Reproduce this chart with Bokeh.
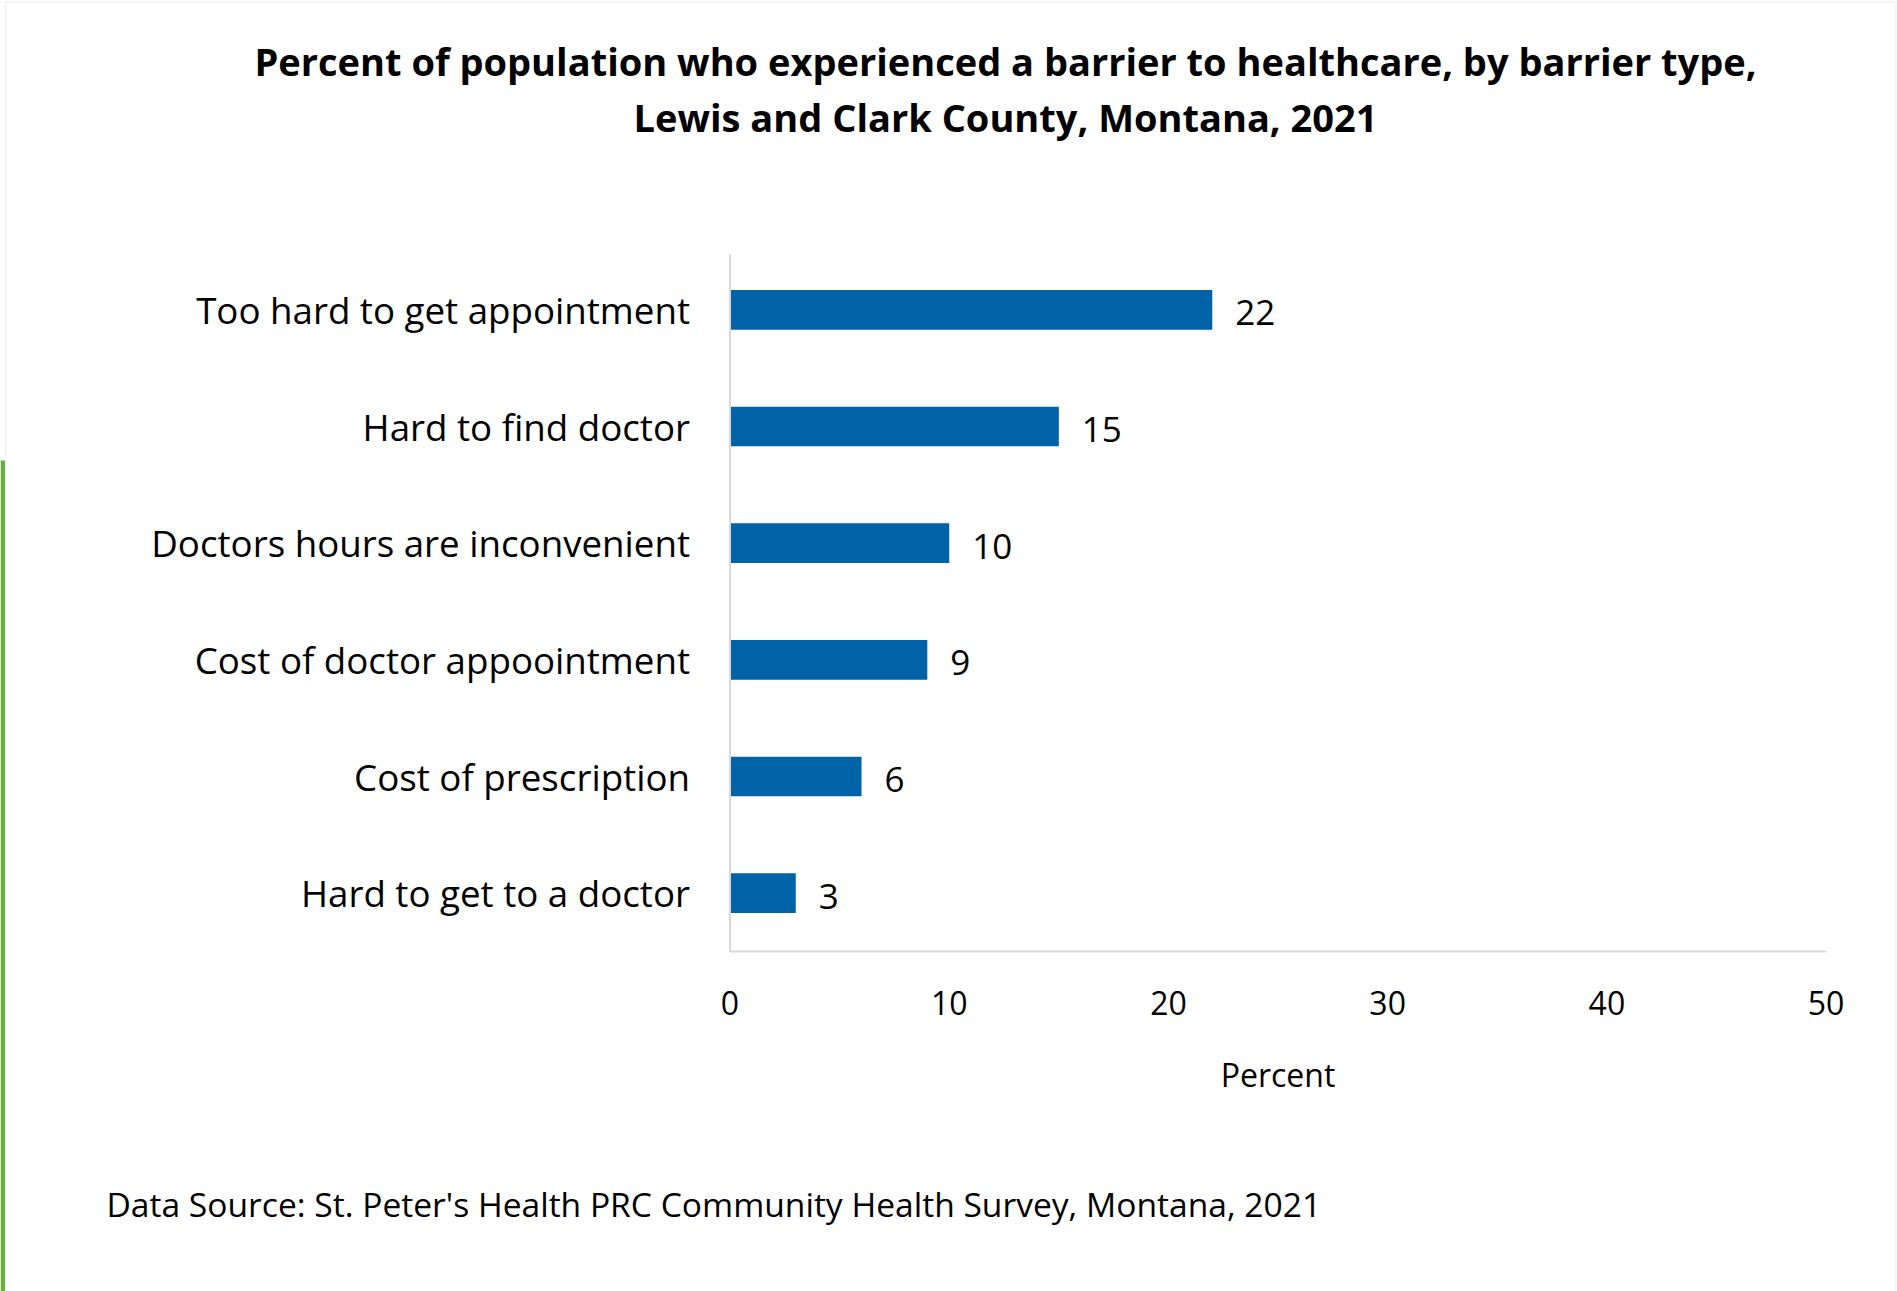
from bokeh.plotting import figure
from bokeh.models import Range1d, Label, BoxAnnotation, ColumnDataSource
from bokeh.core.properties import value
from bokeh.embed import file_html
from bokeh.resources import INLINE

# ---- data ----
categories = [
    "Too hard to get appointment",
    "Hard to find doctor",
    "Doctors hours are inconvenient",
    "Cost of doctor appoointment",
    "Cost of prescription",
    "Hard to get to a doctor",
]
values = [22, 15, 10, 9, 6, 3]
x_ticks = [0, 10, 20, 30, 40, 50]
title_line1 = "Percent of population who experienced a barrier to healthcare, by barrier type,"
title_line2 = "Lewis and Clark County, Montana, 2021"
x_title = "Percent"
source_note = "Data Source: St. Peter's Health PRC Community Health Survey, Montana, 2021"

# ---- layout geometry (pixels) ----
W, H = 1897, 1291
AX_LEFT_PX, AX_RIGHT_PX = 729.5, 1825.6     # x = 0 and x = 50
AX_TOP_PX, AX_BOTTOM_PX = 251.0, 951.0      # top / bottom of category band area
FONT = "Open Sans"
BAR = "#0063A7"
AXIS = "#d9d9d9"

n = len(categories)
xmax = x_ticks[-1]
px_per_x = (AX_RIGHT_PX - AX_LEFT_PX) / xmax
band_px = (AX_BOTTOM_PX - AX_TOP_PX) / n

x_range = Range1d(-AX_LEFT_PX / px_per_x, (W - AX_LEFT_PX) / px_per_x)
y_range = Range1d(-(H - AX_BOTTOM_PX) / band_px, n + AX_TOP_PX / band_px)

ypos = [n - 0.5 - i for i in range(n)]
src = ColumnDataSource(dict(cat=categories, val=values, y=ypos, lbl=[str(v) for v in values]))
tsrc = ColumnDataSource(dict(x=x_ticks, y=[0] * len(x_ticks), lbl=[str(t) for t in x_ticks]))

p = figure(
    width=W, height=H, x_range=x_range, y_range=y_range,
    output_backend="svg", toolbar_location=None,
    x_axis_location=None, y_axis_location=None, min_border=0,
)
p.outline_line_color = None
p.background_fill_color = "white"
p.border_fill_color = "white"
p.xgrid.visible = False
p.ygrid.visible = False

# bars
p.hbar(y="y", left=0, right="val", height=0.34, source=src, fill_color=BAR, line_color=None)

# value labels
p.text(x="val", y="y", text="lbl", source=src, x_offset=23, y_offset=3,
       text_baseline="middle", text_align="left",
       text_font=value(FONT), text_font_size="35px", text_color="black")

# axis lines
p.segment(x0=[0, 0], y0=[0, 0], x1=[0, xmax], y1=[n - 3 / band_px, 0],
          line_color=AXIS, line_width=2)

# category labels (y axis)
p.text(x=0, y="y", text="cat", source=src, x_offset=-40, y_offset=0,
       text_baseline="middle", text_align="right",
       text_font=value(FONT), text_font_size="36.7px", text_color="black")

# x tick labels
p.text(x="x", y="y", text="lbl", source=tsrc, x_offset=0, y_offset=51,
       text_baseline="middle", text_align="center",
       text_font=value(FONT), text_font_size="32px", text_color="black")

# screen-unit helpers (frame == whole canvas; y measured up from the bottom)
def sy(px_from_top):
    return H - px_from_top

p.add_layout(Label(x=(AX_LEFT_PX + AX_RIGHT_PX) / 2, y=sy(1074), x_units="screen", y_units="screen",
                   text=x_title, text_align="center", text_baseline="middle",
                   text_font=FONT, text_font_size="32px", text_color="black"))

p.add_layout(Label(x=1005, y=sy(60), x_units="screen", y_units="screen", text=title_line1,
                   text_align="center", text_baseline="middle", text_font=FONT,
                   text_font_size="38px", text_font_style="bold", text_color="black"))
p.add_layout(Label(x=1005, y=sy(116), x_units="screen", y_units="screen", text=title_line2,
                   text_align="center", text_baseline="middle", text_font=FONT,
                   text_font_size="38px", text_font_style="bold", text_color="black"))
p.add_layout(Label(x=106, y=sy(1203), x_units="screen", y_units="screen", text=source_note,
                   text_align="left", text_baseline="middle", text_font=FONT,
                   text_font_size="33.6px", text_color="black"))

# outer frame and green edge
p.add_layout(BoxAnnotation(left=5, right=1895, top=sy(1), bottom=sy(1300),
                           left_units="screen", right_units="screen", top_units="screen", bottom_units="screen",
                           fill_alpha=0, line_color=AXIS, line_width=2))
p.add_layout(BoxAnnotation(left=0, right=4.5, top=sy(460), bottom=sy(1300),
                           left_units="screen", right_units="screen", top_units="screen", bottom_units="screen",
                           fill_color="#6AAB42", fill_alpha=1, line_color=None))

open("out.html", "w").write(file_html(p, INLINE))
